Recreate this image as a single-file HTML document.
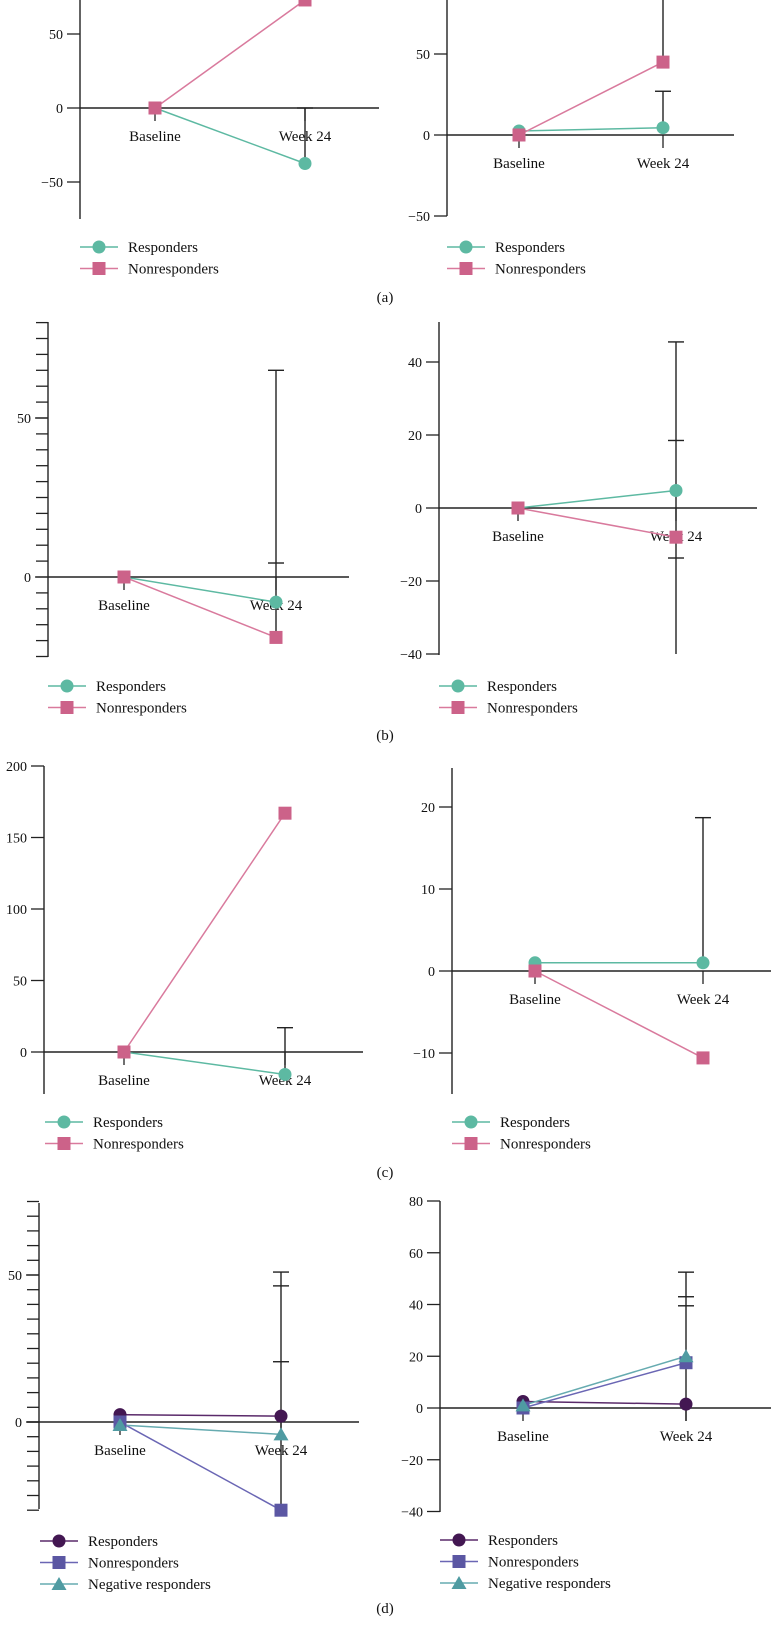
<!DOCTYPE html>
<html><head><meta charset="utf-8"><style>
html,body{margin:0;padding:0;background:#fff;}
svg{display:block;font-family:"Liberation Serif",serif;}
</style></head><body>
<svg id="fig" width="771" height="1646" viewBox="0 0 771 1646" xmlns="http://www.w3.org/2000/svg"></svg>
<script>
// ---- data ----
const categories = ["Baseline", "Week 24"];
const seriesNames2 = ["Responders", "Nonresponders"];
const seriesNames3 = ["Responders", "Nonresponders", "Negative responders"];

const aL_resp = [0, -37.5];
const aL_non = [0, 73];
const aL_err = [[0, -37.5]];
const aL_caps = [0];

const aR_resp = [2.5, 4.5];
const aR_non = [0, 45];
const aR_err = [[45, 110], [4.5, 27]];
const aR_caps = [27];

const bL_resp = [0, -7.9];
const bL_non = [0, -19];
const bL_err = [[-19, 65]];
const bL_caps = [65, 4.4];

const bR_resp = [0, 4.8];
const bR_non = [0, -8];
const bR_err = [[-40, 45.5]];
const bR_caps = [45.5, 18.5, -13.7];

const cL_resp = [0, -15.7];
const cL_non = [0, 167];
const cL_err = [[-15.7, 17]];
const cL_caps = [17];

const cR_resp = [1, 1];
const cR_non = [0, -10.6];
const cR_err = [[1, 18.7]];
const cR_caps = [18.7];

const dL_resp = [2.5, 2];
const dL_non = [0, -30];
const dL_neg = [-1, -4.2];
const dL_err = [[-30, 51]];
const dL_caps = [51, 46.3, 20.5];

const dR_resp = [2.5, 1.5];
const dR_non = [0, 17.5];
const dR_neg = [1, 20];
const dR_err = [[-5, 52.5]];
const dR_caps = [52.5, 43, 39.5];

const ticksA = [-50, 0, 50];
const ticksBL = [0, 50];
const ticksBR = [-40, -20, 0, 20, 40];
const ticksCL = [0, 50, 100, 150, 200];
const ticksCR = [-10, 0, 10, 20];
const ticksDL = [0, 50];
const ticksDR = [-40, -20, 0, 20, 40, 60, 80];

// ---- styles ----
const TEAL = "#5db9a2", PINK = "#cc6289", PINKL = "#d97a9d";
const DPUR = "#431752", BPUR = "#5b57a3", BTEAL = "#4f9ba2";
const AX = "#222";
const NS = "http://www.w3.org/2000/svg";
const svg = document.getElementById("fig");

function el(tag, attrs, parent) {
  const e = document.createElementNS(NS, tag);
  for (const k in attrs) e.setAttribute(k, attrs[k]);
  (parent || svg).appendChild(e);
  return e;
}
function txt(str, x, y, size, anchor, parent) {
  const t = el("text", {x: x, y: y, "font-size": size, "text-anchor": anchor, fill: "#111"}, parent);
  t.textContent = str;
  return t;
}
function marker(kind, x, y, color, g) {
  let m;
  if (kind === "circle") m = el("circle", {cx: x, cy: y, r: 6.5, fill: color}, g);
  else if (kind === "square") m = el("rect", {x: x - 6.5, y: y - 6.5, width: 13, height: 13, fill: color}, g);
  else m = el("polygon", {points: (x) + "," + (y - 7) + " " + (x - 7.5) + "," + (y + 6) + " " + (x + 7.5) + "," + (y + 6), fill: color}, g);
  return m;
}

function panel(p) {
  const g = el("g", {});
  
  
  const sc = (p.y0 - p.yRef) / p.vRef;
  const Y = v => p.y0 - v * sc;
  const X = i => p.xc[i];
  const ax = el("line", {x1: p.ax, y1: p.top, x2: p.ax, y2: p.bot, stroke: AX, "stroke-width": 1.4}, g);
  
  
  if (p.minor) {
    for (let v = p.minorFrom; v <= p.minorTo + 1e-6; v += p.minor) {
      el("line", {x1: p.ax - 12, y1: Y(v), x2: p.ax, y2: Y(v), stroke: AX, "stroke-width": 1.3}, g);
    }
  }
  p.ticks.forEach(v => {
    const tk = el("line", {x1: p.ax - 13, y1: Y(v), x2: p.ax, y2: Y(v), stroke: AX, "stroke-width": 1.3}, g);
    
    
    const lb = txt(String(v).replace("-", "\u2212"), p.ax - 17, Y(v) + 5, 14, "end", g);
    
    
  });
  const xa = el("line", {x1: p.zx0, y1: Y(0), x2: p.zx1, y2: Y(0), stroke: AX, "stroke-width": 1.4}, g);
  
  
  categories.forEach((c, i) => {
    el("line", {x1: X(i), y1: Y(0), x2: X(i), y2: Y(0) + 13, stroke: AX, "stroke-width": 1.3}, g);
    const lb = txt(c, X(i), Y(0) + 33, 15, "middle", g);
    
    
  });
  p.err.forEach(r => {
    const lo = Math.max(Y(r[1]), p.top), hi = Math.min(Y(r[0]), p.bot);
    const e = el("line", {x1: X(1), y1: lo, x2: X(1), y2: hi, stroke: AX, "stroke-width": 1.4}, g);
    
    
  });
  p.caps.forEach(v => {
    const c = el("line", {x1: X(1) - 8, y1: Y(v), x2: X(1) + 8, y2: Y(v), stroke: AX, "stroke-width": 1.4}, g);
    
    
  });
  p.series.forEach(s => {
    const ln = el("polyline", {points: s.vals.map((v, i) => X(i) + "," + Y(v)).join(" "), fill: "none", stroke: s.line, "stroke-width": 1.5}, g);
    
    
  });
  p.series.forEach(s => {
    s.vals.forEach((v, i) => {
      const m = marker(s.kind, X(i), Y(v), s.color, g);
      
      
    });
  });
  p.series.forEach((s, i) => {
    const y = p.legY + i * 21.5;
    const lg = el("g", {}, g);
    
    
    el("line", {x1: p.legX, y1: y, x2: p.legX + 38, y2: y, stroke: s.line, "stroke-width": 1.5}, lg);
    marker(s.kind, p.legX + 19, y, s.color, lg);
    txt(s.name, p.legX + 48, y + 5, 15, "start", lg);
  });
}

const ser2 = (r, n) => [
  {id: "responders", name: seriesNames2[0], vals: r, kind: "circle", color: TEAL, line: TEAL},
  {id: "nonresponders", name: seriesNames2[1], vals: n, kind: "square", color: PINK, line: PINKL}
];
const ser3 = (r, n, q) => [
  {id: "responders", name: seriesNames3[0], vals: r, kind: "circle", color: DPUR, line: "#5a2a6a"},
  {id: "nonresponders", name: seriesNames3[1], vals: n, kind: "square", color: BPUR, line: "#6a66b4"},
  {id: "negative-responders", name: seriesNames3[2], vals: q, kind: "triangle", color: BTEAL, line: "#66abb0"}
];

panel({name: "panel-a-left", ax: 80, top: 0, bot: 219, y0: 108, yRef: 34, vRef: 50, ticks: ticksA,
  zx0: 80, zx1: 379, xc: [155, 305], err: aL_err, caps: aL_caps, series: ser2(aL_resp, aL_non), legX: 80, legY: 247});
panel({name: "panel-a-right", ax: 447, top: 0, bot: 216, y0: 135, yRef: 54, vRef: 50, ticks: ticksA,
  zx0: 447, zx1: 734, xc: [519, 663], err: aR_err, caps: aR_caps, series: ser2(aR_resp, aR_non), legX: 447, legY: 247});

panel({name: "panel-b-left", ax: 48, top: 322, bot: 657, y0: 577, yRef: 418, vRef: 50, ticks: ticksBL,
  minor: 5, minorFrom: -25, minorTo: 80,
  zx0: 48, zx1: 349, xc: [124, 276], err: bL_err, caps: bL_caps, series: ser2(bL_resp, bL_non), legX: 48, legY: 686});
panel({name: "panel-b-right", ax: 439, top: 322, bot: 655, y0: 508, yRef: 435, vRef: 20, ticks: ticksBR,
  zx0: 439, zx1: 757, xc: [518, 676], err: bR_err, caps: bR_caps, series: ser2(bR_resp, bR_non), legX: 439, legY: 686});

panel({name: "panel-c-left", ax: 44, top: 766, bot: 1094, y0: 1052, yRef: 766, vRef: 200, ticks: ticksCL,
  zx0: 44, zx1: 363, xc: [124, 285], err: cL_err, caps: cL_caps, series: ser2(cL_resp, cL_non), legX: 45, legY: 1122});
panel({name: "panel-c-right", ax: 452, top: 768, bot: 1094, y0: 971, yRef: 889, vRef: 10, ticks: ticksCR,
  zx0: 452, zx1: 771, xc: [535, 703], err: cR_err, caps: cR_caps, series: ser2(cR_resp, cR_non), legX: 452, legY: 1122});

panel({name: "panel-d-left", ax: 39, top: 1203, bot: 1509, y0: 1422, yRef: 1275, vRef: 50, ticks: ticksDL,
  minor: 5, minorFrom: -30, minorTo: 75,
  zx0: 27, zx1: 359, xc: [120, 281], err: dL_err, caps: dL_caps, series: ser3(dL_resp, dL_non, dL_neg), legX: 40, legY: 1541});
panel({name: "panel-d-right", ax: 440, top: 1201, bot: 1512, y0: 1408, yRef: 1201, vRef: 80, ticks: ticksDR,
  zx0: 440, zx1: 771, xc: [523, 686], err: dR_err, caps: dR_caps, series: ser3(dR_resp, dR_non, dR_neg), legX: 440, legY: 1540});

[["(a)", 302], ["(b)", 740], ["(c)", 1177], ["(d)", 1613]].forEach(l => {
  const t = txt(l[0], 385, l[1], 15, "middle");
  
  
});
</script>
</body></html>
